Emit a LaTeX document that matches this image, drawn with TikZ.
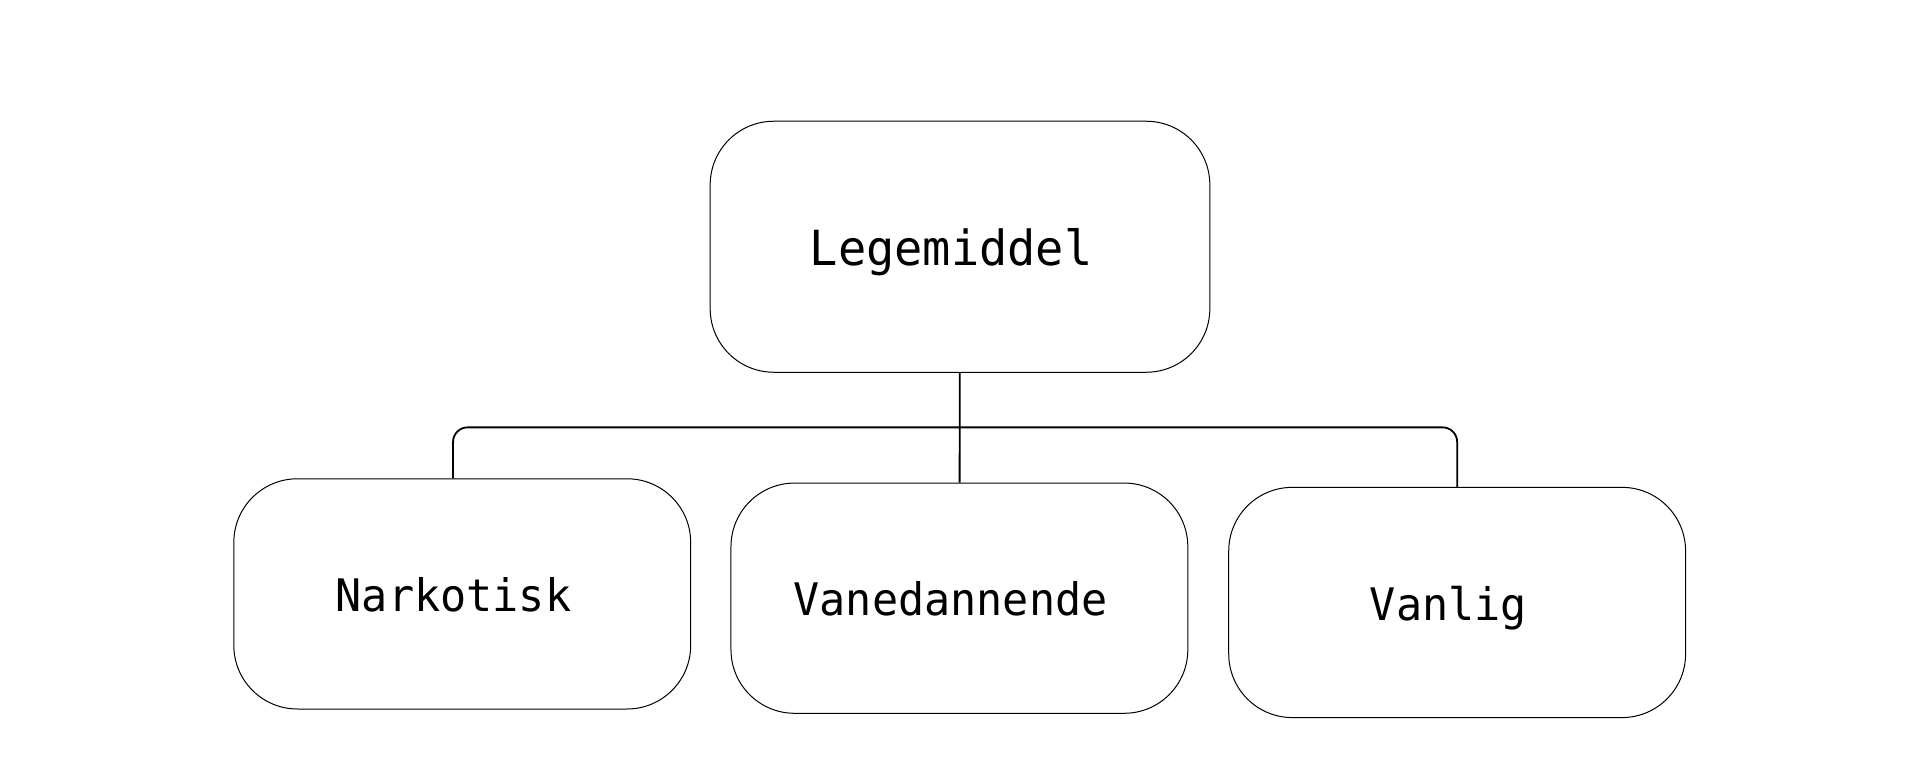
\documentclass[tikz,border=0pt]{standalone}
\usepackage{fontspec}
\usepackage{tikz}
\newfontfamily\labelfont[FakeStretch=0.97]{DejaVu Sans Mono}
\tikzstyle{root}=[rectangle, draw, line width=0.5pt, rounded corners=31.8pt, minimum width=249.8pt, minimum height=125.5pt, text height=19.1pt, text depth=0pt, execute at end node=\hspace{8.8pt}, font=\labelfont\fontsize{24.2}{28}\selectfont]
\tikzstyle{kind}=[rectangle, draw, line width=0.5pt, rounded corners=31.8pt, minimum width=228.4pt, minimum height=115.1pt, text height=17.8pt, text depth=0pt, execute at end node=\hspace{8.8pt}, font=\labelfont\fontsize{22.4}{28}\selectfont]
\tikzstyle{link}=[line width=0.9pt]

\begin{document}
\begin{tikzpicture}[x=0.6122pt, y=-0.6122pt]
                \useasboundingbox (0, 0) rectangle (1568, 639.4);
                \node[root] (med)  at (784, 201.5) {Legemiddel};
                \node[kind] (nark) at (377.5, 485) {Narkotisk};
                \node[kind] (vane) at (783.5, 488.5) {Vanedannende};
                \node[kind] (vanl) at (1190, 492) {Vanlig};
                \coordinate (bus) at (784, 349);
                \draw[link]  (med) -- (vane);
                \draw[link, rounded corners=7.3pt]  ([xshift=-4.6pt]nark.north) |- (bus) -| (vanl);
            \end{tikzpicture}
\end{document}
